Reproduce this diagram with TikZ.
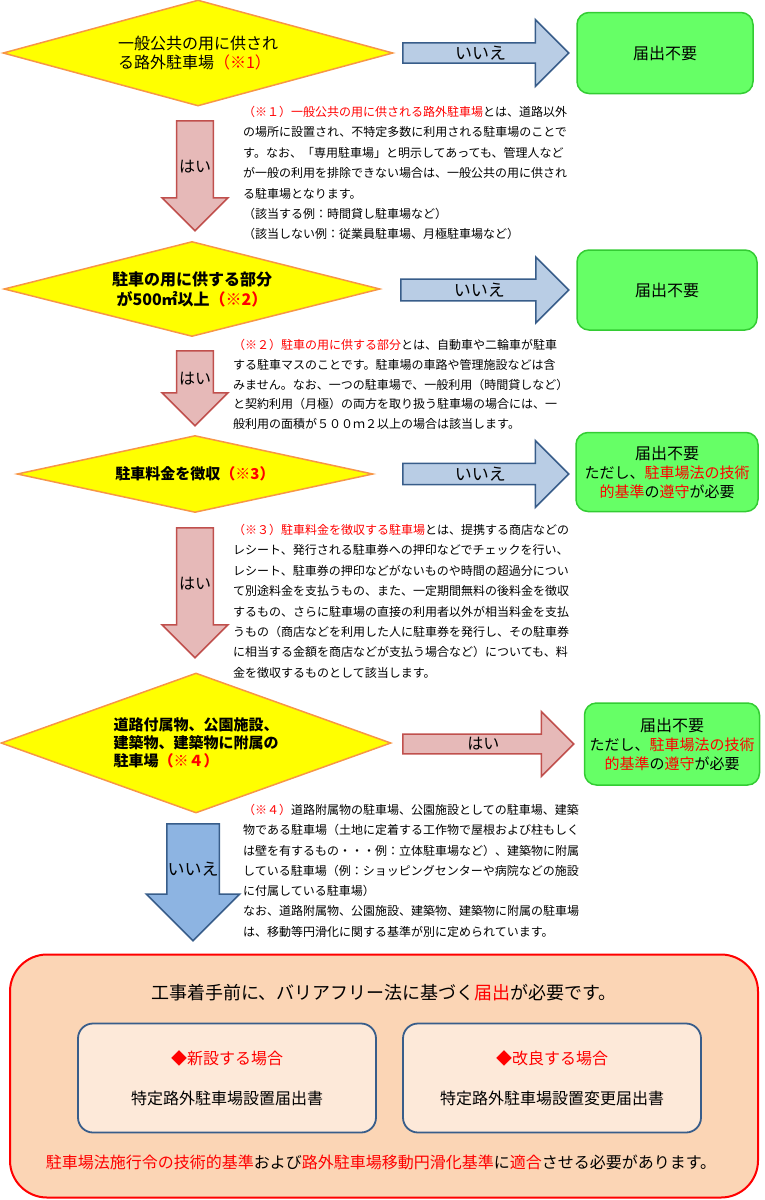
\documentclass[tikz,border=0pt]{standalone}
\usepackage{fontspec}
\setmainfont{Noto Sans CJK JP}
\usetikzlibrary{shapes.geometric,shapes.arrows}

\definecolor{qfill}{HTML}{FFFF00}
\definecolor{qline}{HTML}{F79646}
\definecolor{nofill}{HTML}{B9CDE5}
\definecolor{nodown}{HTML}{8DB4E2}
\definecolor{noline}{HTML}{385D8A}
\definecolor{yesfill}{HTML}{E6B9B8}
\definecolor{yesline}{HTML}{C0504D}
\definecolor{okfill}{HTML}{66FF66}
\definecolor{okline}{HTML}{33CC33}
\definecolor{notered}{HTML}{FF0000}
\definecolor{reqfill}{HTML}{FBD5B5}
\definecolor{formfill}{HTML}{FDE9D9}

\tikzset{
  question/.style={diamond,draw=qline,fill=qfill,line width=1.5pt,inner sep=0pt,
    font=\fontsize{16}{19}\selectfont},
  noarrow/.style={single arrow,draw=noline,fill=nofill,line width=1.5pt,inner sep=0pt,
    anchor=tail,font=\fontsize{17}{20}\selectfont},
  yesarrow/.style={single arrow,draw=yesline,fill=yesfill,line width=1.5pt,inner sep=0pt,
    anchor=tail,font=\fontsize{16}{20}\selectfont},
  okbox/.style={draw=okline,fill=okfill,line width=1.5pt,rounded corners=12pt,
    align=center,font=\fontsize{15}{19}\selectfont},
  note/.style={anchor=north west,inner sep=0pt,align=left,
    font=\fontsize{12}{20.4}\selectfont},
  formbox/.style={draw=noline,fill=formfill,line width=1.8pt,rounded corners=15pt,
    minimum width=298,minimum height=109,align=center,font=\fontsize{16}{40}\selectfont}
}

\begin{document}
\begin{tikzpicture}[x=1pt,y=-1pt]
  \useasboundingbox (0,0) rectangle (765,1200);

  \node[question,aspect=3.68,minimum width=390,minimum height=106,align=left] (q1) at (198,53)
    {一般公共の用に供され\\る路外駐車場\textcolor{notered}{（※1）}};
  \node[question,aspect=3.96,minimum width=376,minimum height=95,align=center,font=\fontsize{16}{20}\selectfont\bfseries] (q2) at (192,289)
    {駐車の用に供する部分\\が500㎡以上\textcolor{notered}{（※2）}};
  \node[question,aspect=4.6,minimum width=356,minimum height=77,font=\fontsize{15}{19}\selectfont\bfseries] (q3) at (195,474)
    {駐車料金を徴収\textcolor{notered}{（※3）}};
  \node[question,aspect=2.79,minimum width=390,minimum height=140,align=left,font=\fontsize{15}{18}\selectfont\bfseries] (q4) at (196,743)
    {道路付属物、公園施設、\\建築物、建築物に附属の\\駐車場\textcolor{notered}{（※４）}};

  \node[okbox,minimum width=176,minimum height=81,font=\fontsize{16}{19}\selectfont] (ok1) at (665,53) {届出不要};
  \node[okbox,minimum width=180,minimum height=80,font=\fontsize{16}{19}\selectfont] (ok2) at (667,290) {届出不要};
  \node[okbox,minimum width=182,minimum height=79] (ok3) at (667,472)
    {{\fontsize{16}{19}\selectfont 届出不要}\\ただし、\textcolor{notered}{駐車場法の技術}\\\textcolor{notered}{的基準}の\textcolor{notered}{遵守}が必要};
  \node[okbox,minimum width=175,minimum height=82] (ok4) at (672,744)
    {{\fontsize{16}{19}\selectfont 届出不要}\\ただし、\textcolor{notered}{駐車場法の技術}\\\textcolor{notered}{的基準}の\textcolor{notered}{遵守}が必要};

  \node[noarrow,minimum height=166,minimum width=67,single arrow head extend=18] (no1) at (402,53) {いいえ};
  \node[noarrow,minimum height=168,minimum width=66,single arrow head extend=16] (no2) at (400,290) {いいえ};
  \node[noarrow,minimum height=166,minimum width=67,single arrow head extend=17] (no3) at (402,474) {いいえ};
  \node[yesarrow,minimum height=171,minimum width=65,single arrow head extend=16.5] (yes4) at (402,744) {はい};

  \node[yesarrow,shape border rotate=270,minimum height=110,minimum width=66,single arrow head extend=13.5] (yes1) at (195,120) {はい};
  \node[yesarrow,shape border rotate=270,minimum height=75,minimum width=66,single arrow head extend=13.5] (yes2) at (195,350) {はい};
  \node[yesarrow,shape border rotate=270,minimum height=130,minimum width=66,single arrow head extend=13.5] (yes3) at (195,527) {はい};
  \node[noarrow,fill=nodown,shape border rotate=270,minimum height=117,minimum width=91,single arrow head extend=20.5] (no4) at (193,823) {いいえ};

  \node[note] (n1) at (243,106)
    {\textcolor{notered}{（※１）一般公共の用に供される路外駐車場}とは、道路以外\\
     の場所に設置され、不特定多数に利用される駐車場のことで\\
     す。なお、「専用駐車場」と明示してあっても、管理人など\\
     が一般の利用を排除できない場合は、一般公共の用に供され\\
     る駐車場となります。\\
     （該当する例：時間貸し駐車場など）\\
     （該当しない例：従業員駐車場、月極駐車場など）};
  \node[note,font=\fontsize{12}{19.8}\selectfont] (n2) at (233,339)
    {\textcolor{notered}{（※２）駐車の用に供する部分}とは、自動車や二輪車が駐車\\
     する駐車マスのことです。駐車場の車路や管理施設などは含\\
     みません。なお、一つの駐車場で、一般利用（時間貸しなど）\\
     と契約利用（月極）の両方を取り扱う駐車場の場合には、一\\
     般利用の面積が５００ｍ２以上の場合は該当します。};
  \node[note] (n3) at (233,524)
    {\textcolor{notered}{（※３）駐車料金を徴収する駐車場}とは、提携する商店などの\\
     レシート、発行される駐車券への押印などでチェックを行い、\\
     レシート、駐車券の押印などがないものや時間の超過分につい\\
     て別途料金を支払うもの、また、一定期間無料の後料金を徴収\\
     するもの、さらに駐車場の直接の利用者以外が相当料金を支払\\
     うもの（商店などを利用した人に駐車券を発行し、その駐車券\\
     に相当する金額を商店などが支払う場合など）についても、料\\
     金を徴収するものとして該当します。};
  \node[note,font=\fontsize{12}{20.3}\selectfont] (n4) at (243,804)
    {\textcolor{notered}{（※４）}道路附属物の駐車場、公園施設としての駐車場、建築\\
     物である駐車場（土地に定着する工作物で屋根および柱もしく\\
     は壁を有するもの・・・例：立体駐車場など）、建築物に附属\\
     している駐車場（例：ショッピングセンターや病院などの施設\\
     に付属している駐車場）\\
     なお、道路附属物、公園施設、建築物、建築物に附属の駐車場\\
     は、移動等円滑化に関する基準が別に定められています。};

  \node[draw=notered,fill=reqfill,line width=2pt,rounded corners=37pt,
    minimum width=748,minimum height=243] (req) at (384,1076) {};
  \node[font=\fontsize{18}{22}\selectfont] (title) at (384,993)
    {工事着手前に、バリアフリー法に基づく\textcolor{notered}{届出}が必要です。};
  \node[formbox] (new) at (227,1078)
    {\textcolor{notered}{◆新設する場合}\\特定路外駐車場設置届出書};
  \node[formbox] (alter) at (552,1078)
    {\textcolor{notered}{◆改良する場合}\\特定路外駐車場設置変更届出書};
  \node[font=\fontsize{16}{20}\selectfont] (rule) at (381,1162)
    {\textcolor{notered}{駐車場法施行令の技術的基準}および\textcolor{notered}{路外駐車場移動円滑化基準}に\textcolor{notered}{適合}させる必要があります。};
\end{tikzpicture}
\end{document}
